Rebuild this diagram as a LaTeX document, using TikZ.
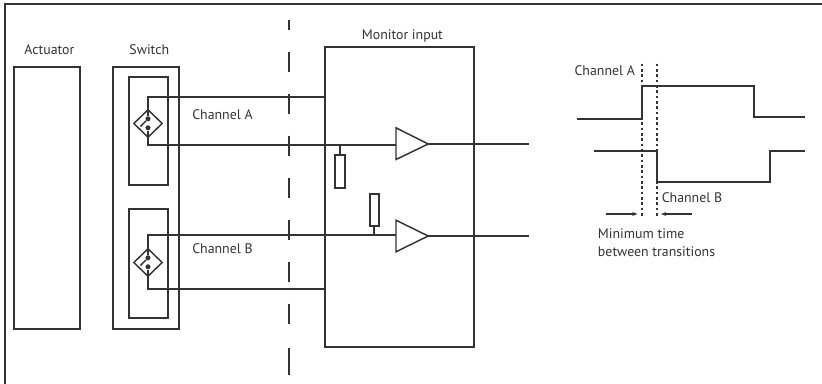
\documentclass[tikz,border=0pt]{standalone}
\usepackage{fontspec}
\setmainfont{PT Sans}
\definecolor{ink}{HTML}{333333}
\usetikzlibrary{shapes.geometric,arrows.meta}
\tikzset{
  wire/.style={draw=ink,line width=1.5pt},
  thin wire/.style={draw=ink,line width=0.8pt},
  lab/.style={font=\fontsize{10.4pt}{13.2pt}\selectfont,text=ink,inner sep=0pt},
  dotline/.style={draw=ink,line width=1.5pt,dash pattern=on 2.1pt off 1.9pt},
  bdash/.style={draw=ink,line width=1.5pt,dash pattern=on 15.4pt off 16.1pt,dash phase=7.5pt},
  pin/.style={circle,fill=ink,inner sep=0pt,minimum size=3.8pt},
  sensor/.style={diamond,draw=ink,line width=1.1pt,inner sep=0pt,minimum width=21.7pt,minimum height=21pt},
  amp/.style={draw=ink,line width=1.1pt,line join=miter},
}
\begin{document}
\begin{tikzpicture}[x=0.75pt,y=-0.75pt]
\useasboundingbox (0,0) rectangle (822,383);
\begin{scope}[shift={(-0.5,-0.5)}]
% frame
\draw[wire] (5.5,384) -- (5.5,4.5) -- (823,4.5);
% boxes
\draw[wire] (14.5,67.5) rectangle (80.5,329.5);
\draw[wire] (113.5,67.5) rectangle (179.5,329.5);
\draw[wire] (129.5,77.5) rectangle (168.5,185.5);
\draw[wire] (129.5,209.5) rectangle (168.5,318.5);
\draw[wire] (325.5,47.5) rectangle (474.5,347.5);
% labels
\node[lab] at (49.9,50.5) {Actuator};
\node[lab] at (149.8,50.5) {Switch};
\node[lab] at (402.9,36.2) {Monitor input};
\node[lab,anchor=west] at (192.5,115.5) {Channel A};
\node[lab,anchor=west] at (192.5,249.5) {Channel B};
\node[lab,anchor=west] at (574.8,71.5) {Channel A};
\node[lab,anchor=west] at (662,198.2) {Channel B};
\node[lab,anchor=west,align=left] at (598.2,243.3) {Minimum time\\between transitions};
% boundary
\draw[bdash] (289.5,20) -- (289.5,340);
\draw[wire] (289.5,348) -- (289.5,375);
% sensor A
\node[sensor] (sa) at (148.5,124) {};
\node[pin] (sa1) at (148.5,119.3) {};
\node[pin] (sa2) at (148.5,128.3) {};
\coordinate (aTop) at (148.5,97.5);
\coordinate (aBot) at (148.5,145.5);
\coordinate (aM) at (325.5,97.5);
\node[inner sep=0pt,minimum size=0pt] (ampAin) at (396.5,145.5) {};
\draw[wire] (sa1) -- (aTop) -- (aM);
\draw[wire] (sa2) -- (aBot) -- (ampAin);
\draw[amp] (sa1) -- (141,127);
% sensor B
\node[sensor] (sb) at (148.5,263) {};
\node[pin] (sb1) at (148.5,258.3) {};
\node[pin] (sb2) at (148.5,267.3) {};
\coordinate (bTop) at (148.5,235.5);
\coordinate (bBot) at (148.5,289.5);
\coordinate (bM) at (325.5,289.5);
\node[inner sep=0pt,minimum size=0pt] (ampBin) at (396.5,235.5) {};
\draw[wire] (sb1) -- (bTop) -- (ampBin);
\draw[wire] (sb2) -- (bBot) -- (bM);
\draw[amp] (sb1) -- (141,266);
% amplifiers
\draw[amp] (396.5,128.3) -- (428.7,144.5) -- (396.5,160) -- cycle;
\draw[amp] (396.5,220.7) -- (428.7,236.5) -- (396.5,252.3) -- cycle;
\coordinate (ampAo) at (428.7,144.5);
\coordinate (ampBo) at (428.7,236.5);
\coordinate (outA) at (529,144.5);
\coordinate (outB) at (529,236.5);
\draw[wire] (ampAo) -- (outA);
\draw[wire] (ampBo) -- (outB);
% resistors
\draw[wire] (335.5,155.5) rectangle (345.5,188.5);
\draw[wire] (370.5,194.5) rectangle (379.5,226.5);
\draw[wire] (340.5,145.5) -- (340.5,155.5);
\draw[wire] (374.5,226.5) -- (374.5,235.5);
% timing
\draw[wire] (577.7,119.5) -- (642.5,119.5) -- (642.5,86.5) -- (754.5,86.5) -- (754.5,117.5) -- (805,117.5);
\draw[wire] (594,151.5) -- (657.5,151.5) -- (657.5,182.5) -- (770.5,182.5) -- (770.5,151.5) -- (805,151.5);
\draw[dotline] (642.5,64) -- (642.5,216);
\draw[dotline] (657.5,64) -- (657.5,216);
\draw[thin wire,-{Stealth[length=4pt,width=3pt]}] (606,214.5) -- (638,214.5);
\draw[thin wire,-{Stealth[length=4pt,width=3pt]}] (692.7,214.5) -- (661.5,214.5);
\end{scope}
\end{tikzpicture}
\end{document}
